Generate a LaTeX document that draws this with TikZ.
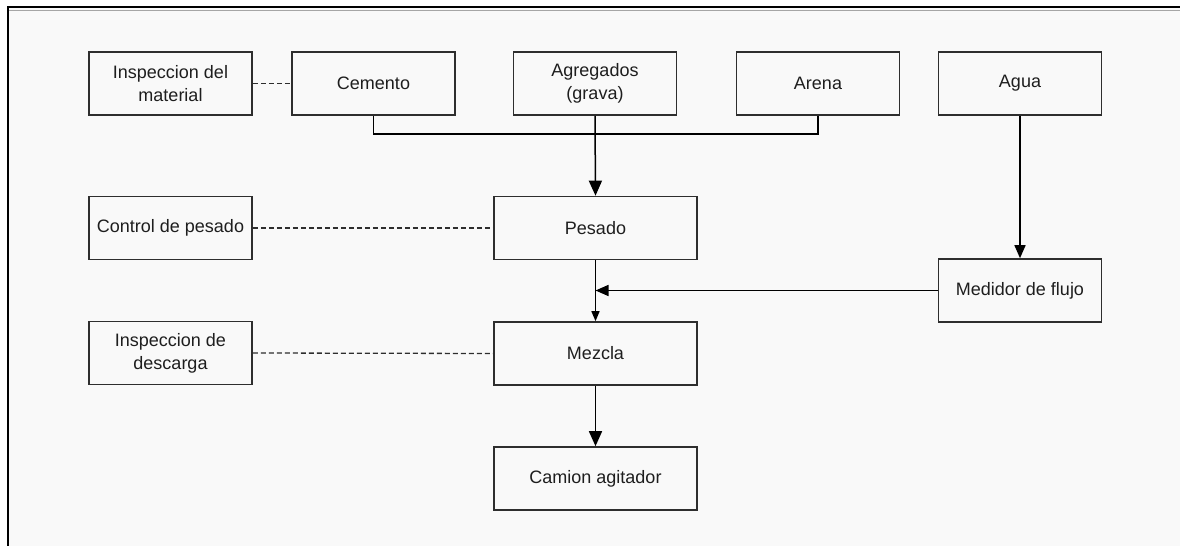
\documentclass[tikz,border=0pt]{standalone}
\usepackage{fontspec}
\setmainfont{Liberation Sans}
\usetikzlibrary{arrows.meta}
\definecolor{pagebg}{HTML}{F9F9F9}
\definecolor{ink}{HTML}{1E1E1E}
\definecolor{edge}{HTML}{2E2E2E}
\tikzset{
  stepbox/.style={draw=edge, line width=1.6bp, fill=pagebg, text=ink,
    minimum width=163bp, minimum height=63bp, inner sep=0pt, align=center,
    font=\fontsize{18bp}{22.7bp}\selectfont},
  widebox/.style={stepbox, minimum width=203bp},
  flow/.style={draw=black, line width=1.5bp},
  bigtip/.style={flow, -{Triangle[length=15bp, width=13bp]}},
  midtip/.style={flow, -{Triangle[length=13bp, width=11bp]}},
  smalltip/.style={flow, -{Triangle[length=10bp, width=8bp]}},
  checkline/.style={draw=edge, line width=1.3bp, dash pattern=on 5bp off 3bp},
}
\begin{document}
\begin{tikzpicture}[x=1bp, y=-1bp]
  % page and window frame
  \fill[white] (0,0) rectangle (1180,546);
  \fill[pagebg] (8,8) rectangle (1180,546);
  \useasboundingbox (0,0) rectangle (1180,546);
  \draw[black, line width=2bp] (7.9,546) -- (7.9,7) -- (1180,7);
  \draw[gray!70, line width=1bp] (9,10.5) -- (1180,10.5);

  % raw materials
  \node[stepbox] (insmat) at (170.5,83.5) {Inspeccion del\\material};
  \node[stepbox] (cemento) at (373.5,83.5) {Cemento};
  \node[stepbox] (agregados) at (595,83.5) {Agregados\\(grava)};
  \node[stepbox] (arena) at (818,83.5) {Arena};
  \node[stepbox] (agua) at (1020,83.5) {Agua};

  % process steps
  \node[stepbox] (ctrl) at (170.5,228) {Control de pesado};
  \node[widebox] (pesado) at (595.5,228) {Pesado};
  \node[stepbox] (medidor) at (1020,290.5) {Medidor de flujo};
  \node[stepbox] (insdesc) at (170.5,353) {Inspeccion de\\descarga};
  \node[widebox] (mezcla) at (595.5,353.5) {Mezcla};
  \node[widebox] (camion) at (595.5,478.5) {Camion agitador};

  % collector under the materials
  \coordinate (bus) at (595,134);
  \draw[flow] (cemento.south) -- (cemento.south |- bus) -- (arena.south |- bus) -- (arena.south);

  % material flow
  \draw[bigtip] (agregados.south) -- (pesado.north);
  \draw[smalltip] (pesado.south) -- (mezcla.north);
  \draw[midtip] (medidor.west) -- (pesado.south |- medidor.west);
  \draw[midtip] (agua.south) -- (medidor.north);
  \draw[bigtip] (mezcla.south) -- (camion.north);

  % inspection links
  \draw[checkline] (insmat.east) -- (cemento.west);
  \draw[checkline] (ctrl.east) -- (pesado.west);
  \draw[checkline] (insdesc.east) -- (mezcla.west);
\end{tikzpicture}
\end{document}
